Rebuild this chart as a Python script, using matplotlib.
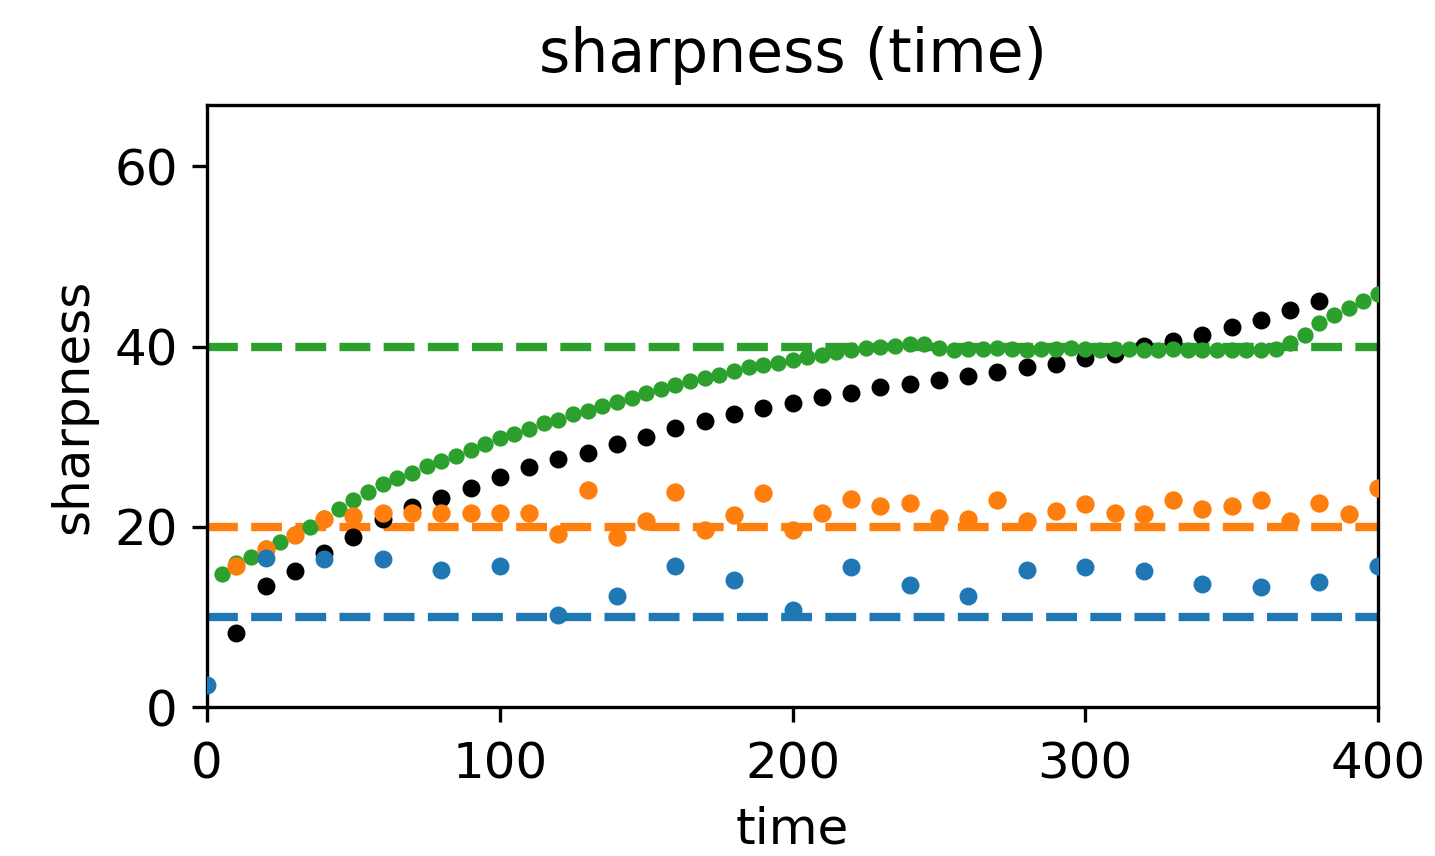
import numpy as np
import matplotlib
matplotlib.use('Agg')
import matplotlib.pyplot as plt

# values
time_black = list(range(10, 390, 10))
sharp_black = [8.2, 13.4, 15.1, 17.1, 18.9, 20.9, 22.2, 23.2, 24.3, 25.5,
               26.6, 27.5, 28.2, 29.2, 30.0, 31.0, 31.7, 32.5, 33.2, 33.7,
               34.4, 34.9, 35.5, 35.8, 36.3, 36.7, 37.2, 37.7, 38.1, 38.7,
               39.2, 40.1, 40.6, 41.3, 42.2, 43.0, 44.1, 45.1]

time_green = list(range(5, 405, 5))
sharp_green = [14.8, 16.0, 16.7, 17.6, 18.3, 19.2, 20.0, 21.0, 22.0, 23.0,
               23.9, 24.7, 25.4, 26.0, 26.7, 27.3, 27.9, 28.5, 29.2, 29.8,
               30.3, 30.9, 31.5, 31.9, 32.5, 32.9, 33.4, 33.8, 34.3, 34.8,
               35.3, 35.7, 36.2, 36.5, 36.9, 37.3, 37.7, 37.9, 38.2, 38.5,
               38.8, 39.1, 39.4, 39.6, 39.8, 40.0, 40.1, 40.3, 40.3, 39.8,
               39.6, 39.7,
               39.7, 39.8, 39.7, 39.6, 39.7, 39.7, 39.8, 39.7, 39.6, 39.7,
               39.7, 39.6, 39.6, 39.7, 39.6, 39.6, 39.6, 39.6, 39.6, 39.6,
               39.7,
               40.4, 41.3, 42.6, 43.5, 44.3, 45.1, 45.8]

time_orange = list(range(10, 410, 10))
sharp_orange = [15.7, 17.5, 19.1, 20.9, 21.2, 21.5, 21.5, 21.5, 21.5, 21.5,
                21.5, 19.2, 24.1, 18.9, 20.6, 23.9, 19.7, 21.3, 23.7, 19.7,
                21.5, 23.1, 22.3, 22.6, 21.0, 20.9, 23.0, 20.6, 21.8, 22.5,
                21.5, 21.4, 23.0, 22.0, 22.3, 23.0, 20.7, 22.6, 21.4, 24.3]

time_blue = list(range(0, 420, 20))
sharp_blue = [2.5, 16.5, 16.4, 16.4, 15.2, 15.7, 10.2, 12.3, 15.7, 14.1,
              10.8, 15.5, 13.5, 12.3, 15.2, 15.5, 15.1, 13.7, 13.3, 13.9, 15.7]

# reference levels (dashed)
levels = [10, 20, 40]
level_colors = ['tab:blue', 'tab:orange', 'tab:green']

fig = plt.figure(figsize=(1435 / 300, 856 / 300), dpi=300)
ax = fig.add_axes([0.1443, 0.174, 0.816, 0.7033])

for lev, c in zip(levels, level_colors):
    ax.axhline(lev, color=c, linestyle='--', linewidth=2, zorder=1)

ax.plot(time_black, sharp_black, 'o', color='black', markersize=3.3, zorder=2)
ax.plot(time_green, sharp_green, 'o', color='tab:green', markersize=2.9, zorder=3)
ax.plot(time_orange, sharp_orange, 'o', color='tab:orange', markersize=3.4, zorder=4)
ax.plot(time_blue, sharp_blue, 'o', color='tab:blue', markersize=3.3, zorder=5)

ax.set_xlim(0, 400)
ax.set_ylim(0, 66.8)
ax.set_xticks([0, 100, 200, 300, 400])
ax.set_yticks([0, 20, 40, 60])
ax.tick_params(labelsize=12)
ax.tick_params(axis='x', pad=4.5)
ax.set_xlabel('time', fontsize=12, labelpad=4)
ax.set_ylabel('sharpness', fontsize=12)
ax.set_title('sharpness (time)', fontsize=14.4, pad=8)

fig.savefig('out.png', dpi=300)
